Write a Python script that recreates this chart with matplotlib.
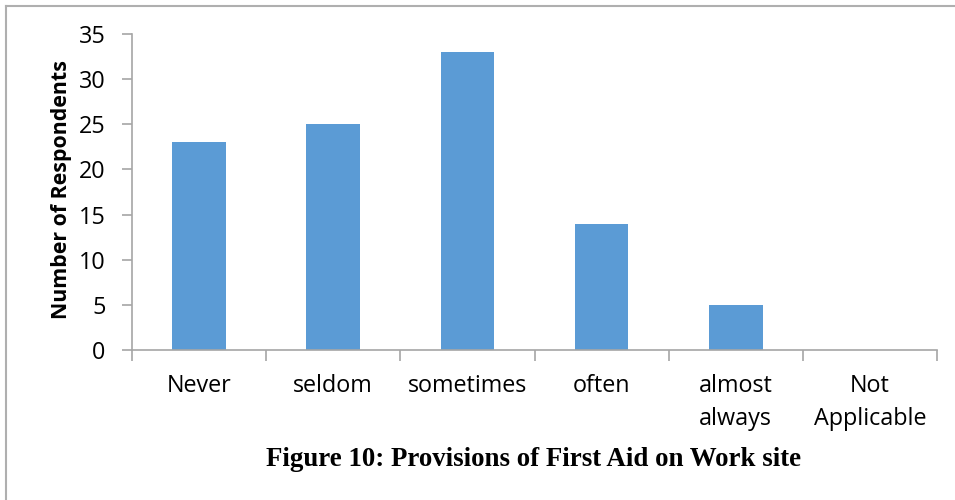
import matplotlib.pyplot as plt
from matplotlib.lines import Line2D

categories = ["Never", "seldom", "sometimes", "often", "almost\nalways", "Not\nApplicable"]
respondents = [23, 25, 33, 14, 5, 0]

bar_color = "#5B9BD5"
axis_gray = "#A6A6A6"

plt.rcParams["font.family"] = ["Open Sans", "DejaVu Sans"]

fig = plt.figure(figsize=(9.55, 5.0), dpi=100)
ax = fig.add_axes([132 / 955, 1 - 350 / 500, (937 - 132) / 955, (350 - 34) / 500])

x = list(range(len(categories)))
ax.bar(x, respondents, width=0.4, color=bar_color)

ax.set_xlim(-0.5, len(categories) - 0.5)
ax.set_ylim(0, 35)
ax.set_yticks(range(0, 36, 5))

# category labels centred, tick marks on the boundaries
ax.set_xticks(x)
ax.set_xticklabels(categories, fontsize=16.8, linespacing=1.5)
ax.set_xticks([i - 0.5 for i in range(len(categories) + 1)], minor=True)
ax.tick_params(axis="x", which="major", length=0, pad=17)
ax.tick_params(axis="x", which="minor", length=8, width=1.2, color=axis_gray)
ax.tick_params(axis="y", length=7, width=1.2, color=axis_gray, labelsize=16.8, pad=12)

for side in ["top", "right"]:
    ax.spines[side].set_visible(False)
for side in ["left", "bottom"]:
    ax.spines[side].set_color(axis_gray)
    ax.spines[side].set_linewidth(1.2)

ax.set_ylabel("Number of Respondents", fontsize=15.4, fontweight="bold")
ax.yaxis.set_label_coords(-0.075, 0.508)

fig.text(0.559, 0.08, "Figure 10: Provisions of First Aid on Work site",
         ha="center", va="center", fontsize=19.4, fontweight="bold",
         family="Liberation Serif")

# partial frame round the figure (top and left edges)
fig.add_artist(Line2D([5.5 / 955, 1], [1 - 5.5 / 500, 1 - 5.5 / 500],
                      transform=fig.transFigure, color="#AFAFAF", linewidth=1.5))
fig.add_artist(Line2D([5.5 / 955, 5.5 / 955], [0, 1 - 5.5 / 500],
                      transform=fig.transFigure, color="#AFAFAF", linewidth=1.5))

fig.savefig("out.png", dpi=100)
